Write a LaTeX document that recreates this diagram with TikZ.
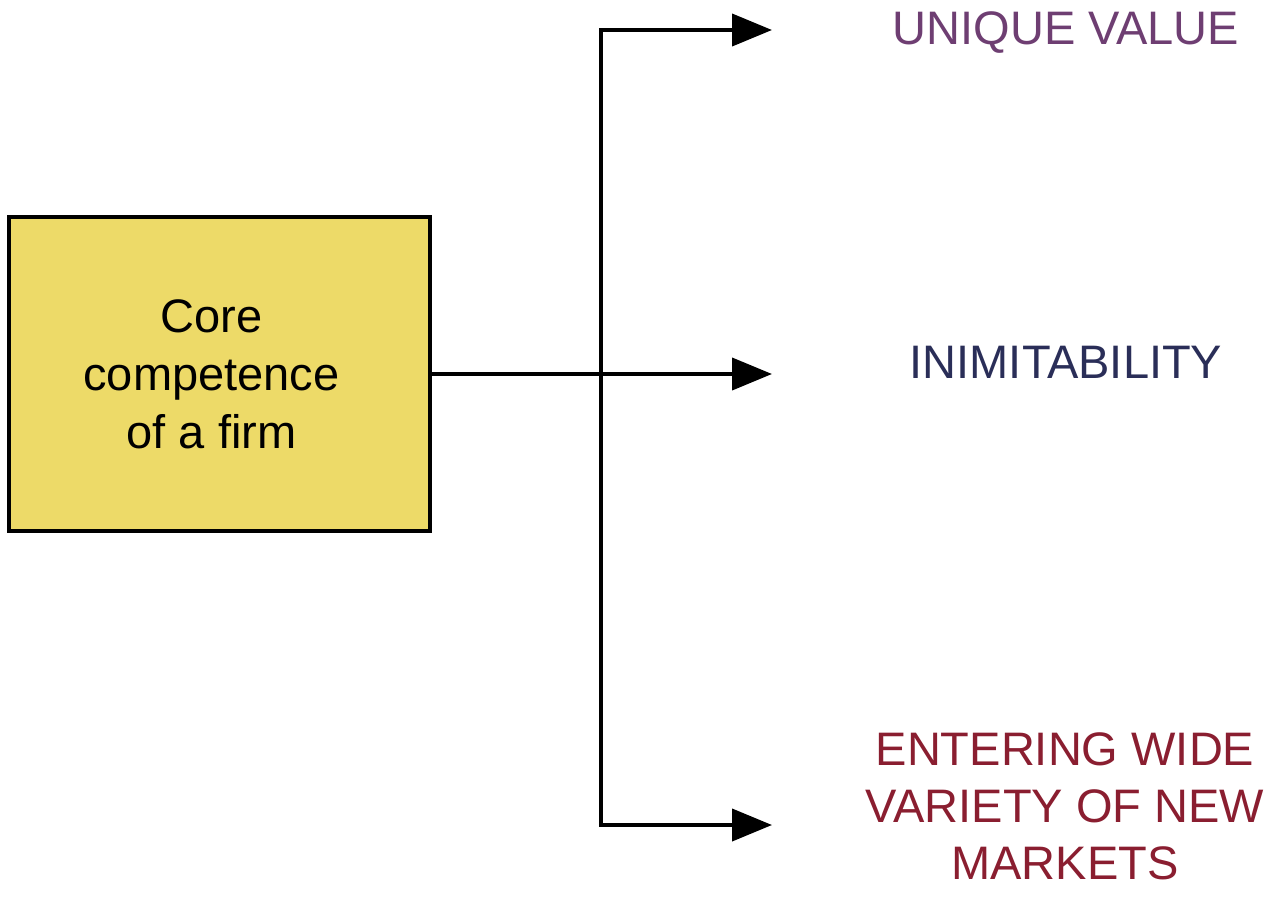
\documentclass[tikz,border=0pt]{standalone}
\usepackage{fontspec}
\setmainfont{Liberation Sans}
\usetikzlibrary{arrows.meta}
\definecolor{boxyellow}{RGB}{237,218,104}
\definecolor{cpurple}{RGB}{110,62,114}
\definecolor{cnavy}{RGB}{42,46,88}
\definecolor{cred}{RGB}{138,30,48}
\tikzset{
  corebox/.style={draw=black, line width=4pt, fill=boxyellow, minimum width=421pt, minimum height=314pt, inner sep=0pt, align=center, font=\fontsize{47}{58}\selectfont},
  link/.style={line width=4pt, draw=black},
  arr/.style={link, -{Triangle[length=40pt,width=32pt]}},
  outtext/.style={align=center, inner sep=0pt, font=\fontsize{47}{57}\selectfont},
}
\begin{document}
\begin{tikzpicture}[x=1pt,y=-1pt]
\useasboundingbox (0,0) rectangle (1272,905);
\node[corebox] (core) at (219.5,374) {\hspace*{-16pt}Core\\\hspace*{-16pt}competence\\\hspace*{-16pt}of a firm};
\coordinate (vtop) at (601,30);
\coordinate (vbot) at (601,825);
\coordinate (t1) at (772,30);
\coordinate (t2) at (772,374);
\coordinate (t3) at (772,825);
\node[outtext, text=cpurple, anchor=base] (uv) at (1066,44) {UNIQUE VALUE};
\node[outtext, text=cnavy, anchor=base] (inim) at (1066,378) {INIMITABILITY};
\node[outtext, text=cred] (enter) at (1065,806) {ENTERING WIDE\\VARIETY OF NEW\\MARKETS};
\draw[link, line cap=rect] (vtop) -- (vbot);
\draw[arr] (vtop) -- (t1);
\draw[arr] (core.east) -- (t2);
\draw[arr] (vbot) -- (t3);
\end{tikzpicture}
\end{document}
